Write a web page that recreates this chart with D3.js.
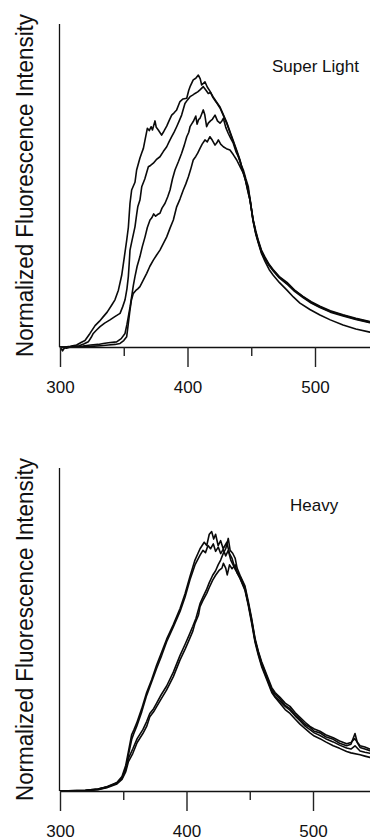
<!DOCTYPE html>
<html>
<head>
<meta charset="utf-8">
<script src="https://cdn.jsdelivr.net/npm/d3@7"></script>
<style>
  html, body { margin: 0; padding: 0; background: #fff; }
  svg { display: block; font-family: "Liberation Sans", Arial, sans-serif; }
</style>
</head>
<body>
<div id="chart"></div>
<script>
// Données : [longueur d'onde (nm), intensité normalisée]
const xTicks = [300, 400, 500];
const xMinorTicks = [350, 450, 550];
const yLabel = "Normalized Fluorescence Intensity";
const panelLabels = ["Super Light", "Heavy"];

// Super Light
const superLightA = [[300,0],[302,-0.012],[304,0],[308,0.002],[313,0.006],[316.5,0.014],[319.6,0.02],[323.5,0.042],[327.5,0.066],[331,0.08],[334,0.094],[337,0.108],[340.6,0.13],[343.1,0.146],[345.8,0.176],[348.4,0.222],[350.5,0.28],[352.3,0.33],[353.6,0.37],[354.9,0.445],[356.2,0.486],[358.8,0.51],[360.1,0.548],[362.7,0.585],[364,0.6],[365.4,0.615],[366.7,0.641],[368.5,0.677],[370,0.67],[371.5,0.682],[372.5,0.672],[374.5,0.7],[375.5,0.68],[377.1,0.672],[379.7,0.656],[381.5,0.668],[383.7,0.684],[385.5,0.7],[387.6,0.718],[389.5,0.725],[391.5,0.734],[394.1,0.76],[396.5,0.768],[399.4,0.77],[401,0.795],[402,0.806],[404.5,0.827],[406.5,0.832],[408.5,0.842],[410,0.83],[411.1,0.811],[413.7,0.821],[415.5,0.805],[417.6,0.792],[420,0.775],[422.5,0.76],[425.5,0.743],[428,0.72],[431,0.693],[433.5,0.665],[435.7,0.641],[438.5,0.61],[441.2,0.579],[443,0.55],[445.1,0.526],[447,0.49],[449,0.455],[451.4,0.393],[453.5,0.35],[455.3,0.325],[458,0.29],[460.8,0.265],[464,0.24],[467.1,0.223],[472,0.2],[478,0.176],[483,0.155],[488.2,0.136],[496,0.116],[503.9,0.099],[512,0.084],[522,0.068],[532,0.056],[543,0.046],[550,0.04]];
const superLightB = [[300,0],[305,-0.004],[310,0.002],[315,0.004],[319,0.01],[322.2,0.016],[324.5,0.03],[326.1,0.042],[328.5,0.052],[331.4,0.063],[335,0.074],[339.2,0.084],[343,0.094],[347.1,0.104],[349.2,0.125],[351,0.146],[352.5,0.18],[353.6,0.218],[354.3,0.26],[354.9,0.3],[356.5,0.33],[358.8,0.372],[360.1,0.41],[361,0.434],[362.7,0.455],[364.1,0.496],[366.5,0.52],[369.3,0.558],[371,0.562],[373.2,0.569],[375.5,0.58],[378.4,0.589],[381,0.605],[383.7,0.62],[385.5,0.635],[387.6,0.651],[389.5,0.665],[391.5,0.682],[393.5,0.7],[395.4,0.718],[398,0.754],[400,0.765],[402,0.775],[404,0.78],[405.9,0.785],[408,0.79],[409.8,0.796],[412.4,0.806],[414.5,0.795],[416.3,0.785],[418,0.788],[420,0.772],[422.5,0.758],[425.5,0.74],[428,0.718],[431,0.69],[433.5,0.662],[435.7,0.638],[438.5,0.607],[441.2,0.575],[443,0.548],[445.1,0.522],[447,0.488],[449,0.455],[451.4,0.395],[453.5,0.36],[455.3,0.333],[458,0.3],[460.8,0.278],[464,0.256],[467.1,0.24],[472,0.218],[478,0.2],[484,0.176],[490.6,0.157],[497,0.14],[503.9,0.126],[512,0.112],[522,0.1],[532,0.089],[543,0.079],[550,0.074]];
const superLightC = [[300,0],[306,0],[312,0.001],[318,0.003],[324,0.006],[330,0.008],[334,0.011],[338,0.013],[344.4,0.016],[348,0.026],[351,0.042],[352.5,0.07],[353.6,0.094],[355,0.125],[356.2,0.156],[357.5,0.19],[358.8,0.218],[360.5,0.25],[362.7,0.28],[364.5,0.31],[366.7,0.341],[368.5,0.37],[370.6,0.393],[372,0.4],[373.5,0.412],[375,0.405],[376.5,0.41],[378.4,0.414],[380,0.43],[382.4,0.445],[384.5,0.465],[386.3,0.486],[388.2,0.52],[390.2,0.548],[393,0.575],[395.4,0.6],[397.5,0.625],[399.4,0.651],[401,0.665],[402,0.682],[403.2,0.69],[404.5,0.698],[406.5,0.715],[407.5,0.69],[408.8,0.705],[409.8,0.708],[411,0.72],[412.4,0.734],[413.5,0.72],[415,0.682],[416.3,0.693],[418,0.7],[419.5,0.705],[421.6,0.718],[423.5,0.7],[425.5,0.693],[427,0.7],[428.1,0.708],[430,0.68],[432,0.661],[434,0.645],[435.9,0.631],[438,0.605],[439.9,0.589],[442,0.565],[443.8,0.548],[445.8,0.52],[447.7,0.496],[449,0.458],[451.4,0.395],[453.5,0.356],[455.3,0.33],[458,0.296],[460.8,0.274],[464,0.254],[467.1,0.238],[472,0.216],[478,0.196],[484,0.175],[490.6,0.155],[497,0.138],[503.9,0.124],[512,0.11],[522,0.098],[532,0.087],[543,0.077],[550,0.072]];
const superLightD = [[300,0],[308,0],[316,0.001],[324,0.002],[332,0.004],[338,0.006],[343.1,0.008],[347.1,0.011],[350,0.02],[352.3,0.032],[353.5,0.07],[354.9,0.115],[356,0.145],[357.5,0.166],[359.5,0.175],[361,0.18],[362.7,0.187],[365,0.205],[368,0.228],[370.5,0.25],[373.2,0.269],[375.8,0.285],[378.4,0.3],[381,0.32],[383.7,0.341],[386.3,0.368],[388.9,0.393],[391.5,0.434],[394.1,0.458],[396.7,0.486],[398.7,0.505],[400.7,0.527],[402.5,0.55],[404.5,0.579],[406.5,0.59],[408,0.6],[409.8,0.615],[411.5,0.628],[413.7,0.641],[415.5,0.635],[417.6,0.651],[419.5,0.64],[421.6,0.625],[423,0.632],[424.2,0.641],[426,0.628],[428.1,0.62],[430.5,0.614],[433.3,0.61],[436,0.595],[438.6,0.579],[441,0.56],[443.8,0.538],[445.8,0.512],[447.7,0.486],[449.3,0.452],[451.4,0.39],[453.5,0.353],[455.3,0.328],[458,0.293],[460.8,0.272],[464,0.252],[467.1,0.236],[472,0.214],[478,0.195],[484,0.172],[490.6,0.153],[497,0.136],[503.9,0.122],[512,0.108],[522,0.096],[532,0.085],[543,0.075],[550,0.07]];

// Heavy
const heavyA = [[300,0],[320,0.002],[330,0.006],[337,0.013],[345,0.026],[349,0.045],[352,0.08],[354,0.12],[356.7,0.175],[358.5,0.19],[360.6,0.21],[364.6,0.255],[368.5,0.305],[372.5,0.345],[376.4,0.39],[380.4,0.43],[384.3,0.47],[389.6,0.515],[394.9,0.565],[398.8,0.61],[402.8,0.665],[406.7,0.715],[410.7,0.75],[414,0.77],[416,0.76],[418,0.795],[419.9,0.803],[421.5,0.78],[423,0.795],[425,0.76],[427,0.775],[429,0.75],[431.8,0.77],[434,0.735],[436,0.72],[438.3,0.69],[442.3,0.665],[446.2,0.63],[448.9,0.58],[451.5,0.53],[454.2,0.468],[456.8,0.43],[459.4,0.395],[463.4,0.355],[467.4,0.315],[470,0.3],[473.9,0.285],[478,0.265],[481.8,0.255],[486,0.235],[489.7,0.222],[494,0.205],[497.6,0.197],[501,0.185],[505.5,0.18],[510,0.168],[516,0.16],[521,0.148],[526.6,0.14],[530,0.145],[533.2,0.178],[535,0.15],[537.2,0.135],[541,0.13],[545,0.125],[550,0.12]];
const heavyB = [[300,0],[320,0.001],[330,0.005],[337,0.012],[345,0.024],[349,0.04],[352,0.07],[354,0.11],[356.7,0.16],[358.5,0.18],[360.6,0.2],[364.6,0.245],[368.5,0.296],[372.5,0.338],[376.4,0.38],[380.4,0.42],[384.3,0.462],[389.6,0.508],[394.9,0.556],[398.8,0.6],[402.8,0.655],[406.7,0.7],[410.7,0.73],[413,0.745],[415,0.738],[417,0.76],[419,0.75],[421.2,0.765],[423,0.742],[425.1,0.755],[427,0.735],[429,0.748],[431,0.728],[433,0.745],[435,0.715],[438.3,0.688],[442.3,0.66],[446.2,0.625],[448.9,0.578],[451.5,0.525],[454.2,0.465],[456.8,0.425],[459.4,0.39],[463.4,0.35],[467.4,0.31],[470,0.292],[473.9,0.278],[478,0.262],[481.8,0.25],[486,0.232],[489.7,0.218],[494,0.2],[497.6,0.19],[501,0.18],[505.5,0.172],[510,0.162],[516,0.152],[521,0.142],[526.6,0.133],[530,0.13],[533.2,0.14],[537.2,0.124],[541,0.12],[545,0.117],[550,0.112]];
const heavyC = [[300,0],[320,0.001],[330,0.004],[337,0.01],[345,0.022],[349,0.036],[352,0.06],[354,0.09],[357.5,0.116],[361,0.15],[365.5,0.178],[368.5,0.2],[371,0.23],[374,0.245],[376.4,0.261],[380,0.285],[384.3,0.313],[389.6,0.354],[394.9,0.406],[399,0.44],[402,0.467],[405,0.495],[406.7,0.519],[409.5,0.545],[410.7,0.571],[413,0.59],[416,0.612],[418,0.63],[420.7,0.653],[423,0.668],[426,0.684],[428,0.69],[429.2,0.705],[431,0.69],[432.2,0.669],[434,0.7],[436,0.688],[438.5,0.7],[440,0.675],[442.3,0.658],[446.2,0.622],[448.9,0.574],[451.5,0.52],[454.2,0.46],[456.8,0.42],[459.4,0.385],[463.4,0.345],[467.4,0.305],[470,0.29],[473.9,0.272],[478,0.252],[481.8,0.24],[486,0.222],[489.7,0.207],[494,0.192],[497.6,0.18],[501,0.17],[505.5,0.162],[510,0.152],[516,0.14],[521,0.132],[526.6,0.122],[530,0.118],[537.2,0.112],[541,0.108],[545,0.104],[550,0.1]];
const heavyD = [[300,0],[320,0.002],[330,0.006],[337,0.012],[345,0.025],[349,0.04],[352,0.068],[354,0.1],[357.5,0.13],[361,0.162],[365.5,0.19],[368.5,0.215],[371,0.24],[374,0.255],[376.4,0.272],[380,0.298],[384.3,0.325],[389.6,0.368],[394.9,0.42],[399,0.455],[402,0.482],[405,0.51],[407.5,0.535],[410.7,0.58],[413,0.6],[416,0.625],[418,0.645],[420.7,0.668],[423,0.682],[425,0.7],[427,0.715],[429,0.735],[431,0.75],[433,0.782],[434.5,0.745],[436.5,0.736],[438.5,0.72],[440,0.69],[442.3,0.668],[446.2,0.635],[448.9,0.586],[451.5,0.534],[454.2,0.472],[456.8,0.432],[459.4,0.4],[463.4,0.36],[467.4,0.32],[470,0.305],[473.9,0.29],[478,0.272],[481.8,0.262],[486,0.242],[489.7,0.228],[494,0.212],[497.6,0.2],[501,0.192],[505.5,0.185],[510,0.174],[516,0.165],[521,0.155],[526.6,0.146],[530,0.15],[533,0.162],[537.2,0.14],[541,0.136],[545,0.13],[550,0.126]];

const width = 370;
const height = 840;

const svg = d3
  .select("#chart")
  .append("svg")
  .attr("width", width)
  .attr("height", height);

// Un panneau = un graphique avec son axe
const drawPanel = (curves, label, top, bottom, pxPerNm, labelPos) => {
  const x = d3.scaleLinear().domain([300, 550]).range([60, 60 + 250 * pxPerNm]);
  const y = d3.scaleLinear().domain([0, 1]).range([bottom, top]);

  const g = svg.append("g");

  const line = d3
    .line()
    .x((d) => x(d[0]))
    .y((d) => y(d[1]));

  g.selectAll("path.curve")
    .data(curves)
    .enter()
    .append("path")
    .attr("class", "curve")
    .attr("d", line)
    .style("fill", "none")
    .style("stroke", "#0a0a0a")
    .style("stroke-width", 1.6)
    .style("stroke-linejoin", "round");

  // Axe des x : graduations principales
  const axis = g
    .append("g")
    .attr("transform", `translate(0,${bottom})`)
    .call(
      d3.axisBottom(x).tickValues(xTicks).tickSize(20).tickSizeOuter(0).tickPadding(14)
    );
  axis.select(".domain").style("stroke", "#111").style("stroke-width", 1.5);
  axis.selectAll(".tick line").style("stroke", "#222").style("stroke-width", 1.4);
  axis
    .selectAll(".tick text")
    .style("font-size", "17px")
    .style("fill", "#111")
    .style("font-family", '"Liberation Sans", Arial, sans-serif');

  // graduations secondaires
  const minor = g
    .append("g")
    .attr("transform", `translate(0,${bottom})`)
    .call(d3.axisBottom(x).tickValues(xMinorTicks).tickSize(9).tickSizeOuter(0).tickFormat(""));
  minor.select(".domain").remove();
  minor.selectAll(".tick line").style("stroke", "#222").style("stroke-width", 1.4);

  // Axe des y (sans graduations)
  g.append("line")
    .attr("x1", 59.5)
    .attr("x2", 59.5)
    .attr("y1", top)
    .attr("y2", bottom)
    .style("stroke", "#111")
    .style("stroke-width", 1.3);

  g.append("text")
    .attr("transform", `translate(33,${(top + bottom) / 2}) rotate(-90)`)
    .attr("text-anchor", "middle")
    .attr("textLength", 343)
    .attr("lengthAdjust", "spacingAndGlyphs")
    .style("font-size", "23px")
    .style("fill", "#111")
    .text(yLabel);

  g.append("text")
    .attr("x", labelPos[0])
    .attr("y", labelPos[1])
    .style("font-size", "17px")
    .style("fill", "#111")
    .text(label);
};

drawPanel([superLightA, superLightB, superLightC, superLightD], panelLabels[0], 24, 347, 1.275, [272, 72]);
drawPanel([heavyA, heavyB, heavyC, heavyD], panelLabels[1], 468, 791, 1.265, [290, 511]);
</script>
</body>
</html>
